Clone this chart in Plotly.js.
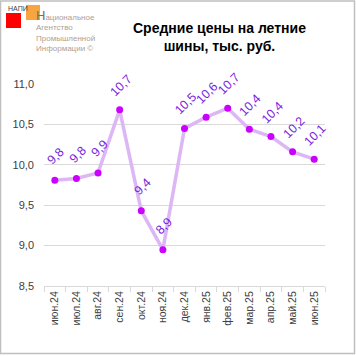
<!DOCTYPE html>
<html><head><meta charset="utf-8">
<script src="https://cdn.plot.ly/plotly-3.0.1.min.js"></script>
<style>html,body{margin:0;padding:0;background:#fff;}#c{width:356px;height:356px;}</style>
</head><body><div id="c"></div>
<script>
const months = ["июн.24","июл.24","авг.24","сен.24","окт.24","ноя.24","дек.24","янв.25","фев.25","мар.25","апр.25","май.25","июн.25"];
const prices = [9.81,9.83,9.90,10.68,9.43,8.95,10.45,10.59,10.70,10.44,10.35,10.16,10.07];
const priceLabels = ["9,8","9,8","9,9","10,7","9,4","8,9","10,5","10,6","10,7","10,4","10,4","10,2","10,1"];
const yTicks = [8.5,9.0,9.5,10.0,10.5,11.0];
const yTickText = ["8,5","9,0","9,5","10,0","10,5","11,0"];

const W=356,H=356,L=44,R=31,T=84,B=70;
const pw=W-L-R, ph=H-T-B;
const px=x=>(x-L)/pw, py=y=>1-(y-T)/ph;

const annotations = months.map((m,i)=>({
  x:m, y:prices[i], xref:'x', yref:'y', text:priceLabels[i], showarrow:false,
  textangle:-45, yshift:24, xshift:1, font:{family:'Liberation Sans, Arial', size:12.5, color:'#7A1FE0'}
}));
annotations.push({xref:'paper',yref:'paper',x:px(219),y:py(37),text:'<b>Средние цены на летние<br>шины, тыс. руб.</b>',
  showarrow:false,xanchor:'center',yanchor:'middle',font:{family:'Liberation Sans, Arial',size:14,color:'#000'}});
annotations.push({xref:'paper',yref:'paper',x:px(6),y:py(8),text:'НАПИ',showarrow:false,xanchor:'left',yanchor:'middle',
  font:{family:'Liberation Sans, Arial',size:7,color:'#404040'}});
annotations.push({xref:'paper',yref:'paper',x:px(34),y:py(30),
  text:'<span style="font-size:13px;color:#707070">Н</span>ациональное<br>Агентство<br>Промышленной<br>Информации ©',
  showarrow:false,xanchor:'left',yanchor:'middle',align:'left',
  font:{family:'Liberation Sans, Arial',size:8,color:'#B0A090'}});

const shapes = [
  {type:'rect',xref:'paper',yref:'paper',x0:px(0.5),x1:px(354.5),y0:py(1),y1:py(353.5),line:{color:'#BFBFBF',width:1.5},layer:'below'},
  {type:'rect',xref:'paper',yref:'paper',x0:px(6),x1:px(21),y0:py(13),y1:py(28),fillcolor:'#FF0000',line:{width:0},layer:'below'},
  {type:'rect',xref:'paper',yref:'paper',x0:px(26),x1:px(40),y0:py(5),y1:py(20),fillcolor:'rgba(247,148,29,0.85)',line:{width:0},layer:'below'}
];

const trace = {
  x:months, y:prices, type:'scatter', mode:'lines+markers',
  line:{color:'#DDB6F5',width:3.5},
  marker:{color:'#CC00FF',size:7},
  hoverinfo:'none', cliponaxis:false
};

const layout = {
  width:W, height:H, margin:{l:L,r:R,t:T,b:B},
  paper_bgcolor:'#fff', plot_bgcolor:'#fff', showlegend:false,
  separators:', ',
  font:{family:'Liberation Sans, Arial',size:10,color:'#404040'},
  xaxis:{type:'category',range:[-0.5,12.5],tickangle:-90,tickson:'boundaries',ticks:'outside',ticklen:5,tickcolor:'#D9D9D9',
    showline:true,linecolor:'#D9D9D9',linewidth:1,showgrid:false,zeroline:false,fixedrange:true,
    tickfont:{size:10.5,color:'#404040'}},
  yaxis:{range:[8.5,11.0],tickvals:yTicks,ticktext:yTickText,showgrid:true,gridcolor:'#D9D9D9',gridwidth:1,
    zeroline:false,showline:false,ticks:'',ticklabelstandoff:9,fixedrange:true,tickfont:{size:11,color:'#404040'}},
  annotations:annotations, shapes:shapes
};
Plotly.newPlot('c',[trace],layout,{staticPlot:true,displayModeBar:false});
</script></body></html>
